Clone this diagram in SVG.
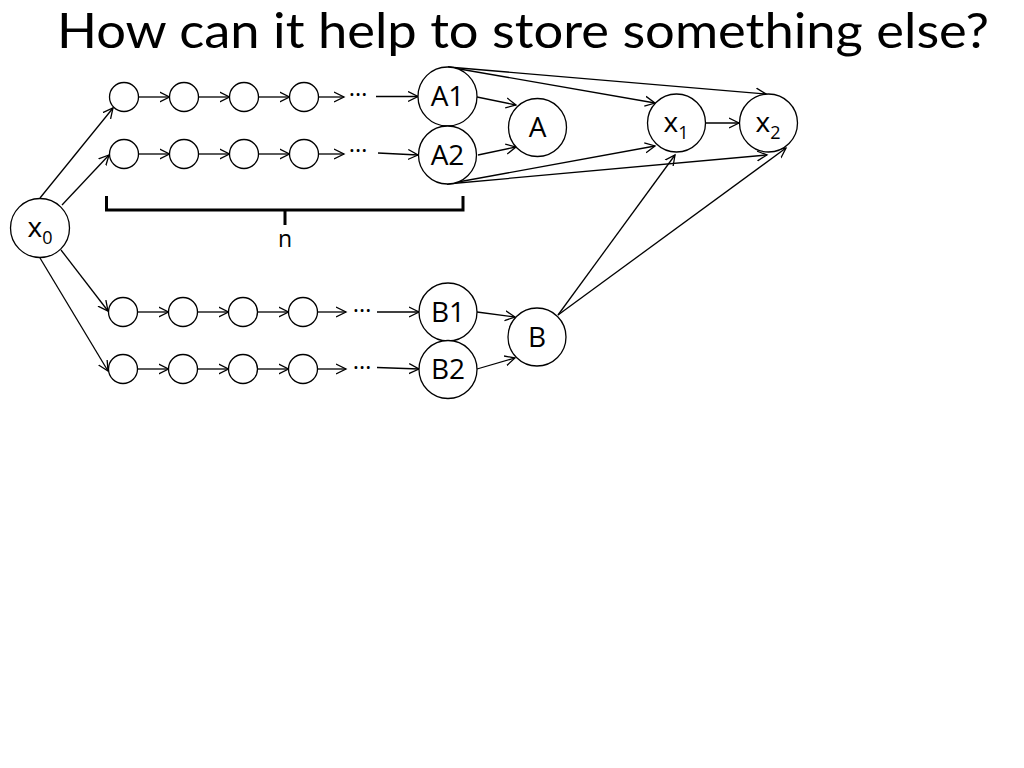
<svg xmlns="http://www.w3.org/2000/svg" width="1024" height="768" viewBox="0 0 1024 768">
<defs>
<style>
.n{fill:#fff;stroke:#000;stroke-width:1.3}
.e{fill:none;stroke:#000;stroke-width:1.3;marker-end:url(#ah)}
.t{font-family:"Open Sans","Liberation Sans",sans-serif;fill:#000;text-anchor:middle}
.lbl{font-size:28px}
.sub{font-size:18px}
.dots{font-family:"Open Sans","Liberation Sans",sans-serif;font-size:24px;fill:#000;text-anchor:middle}
</style>
<marker id="ah" markerUnits="userSpaceOnUse" markerWidth="12" markerHeight="12" refX="10" refY="5" orient="auto" viewBox="0 0 12 10">
<path d="M0,0 L10,5 L0,10" fill="none" stroke="#000" stroke-width="1.3"/>
</marker>
</defs>
<rect width="1024" height="768" fill="#fff"/>
<text x="57" y="48" font-family="Lato, Open Sans, sans-serif" font-size="48" textLength="932" lengthAdjust="spacingAndGlyphs">How can it help to store something else?</text>

<g id="connectors">
<path class="e" d="M40,198 L113,108"/>
<path class="e" d="M62,205 L109,155"/>
<path class="e" d="M61,250 L108,311"/>
<path class="e" d="M40,258 L108,371"/>
<path class="e" d="M138.5,97 L169.5,97"/>
<path class="e" d="M198.5,97 L229.5,97"/>
<path class="e" d="M258.5,97 L289.5,97"/>
<path class="e" d="M318.5,97 L344,97"/>
<path class="e" d="M376,96.5 L418,96.5"/>
<path class="e" d="M138.5,154 L169.5,154"/>
<path class="e" d="M198.5,154 L229.5,154"/>
<path class="e" d="M258.5,154 L289.5,154"/>
<path class="e" d="M318.5,154 L344,154"/>
<path class="e" d="M378,153 L418,155"/>
<path class="e" d="M137.5,312 L168.5,312"/>
<path class="e" d="M197.5,312 L228.5,312"/>
<path class="e" d="M257.5,312 L288.5,312"/>
<path class="e" d="M317.5,312 L346,312"/>
<path class="e" d="M377,312 L419,312"/>
<path class="e" d="M137.5,369 L168.5,369"/>
<path class="e" d="M197.5,369 L228.5,369"/>
<path class="e" d="M257.5,369 L288.5,369"/>
<path class="e" d="M317.5,369 L346,369"/>
<path class="e" d="M377,367.5 L419,369"/>
<path class="e" d="M477,97 L516,105"/>
<path class="e" d="M478,155 L516,147"/>
<path class="e" d="M448,67 L655,103"/>
<path class="e" d="M448,67 L766,94"/>
<path class="e" d="M447,184 L655,146"/>
<path class="e" d="M447,184 L767,155"/>
<path class="e" d="M477,312 L515,317"/>
<path class="e" d="M477,369 L515,358"/>
<path class="e" d="M558,315 L675,155"/>
<path class="e" d="M558,315 L786,148"/>
<path class="e" d="M706,123 L739,123"/>
</g>

<g id="ellipses">
<text class="dots" x="358" y="96">…</text>
<text class="dots" x="358" y="152">…</text>
<text class="dots" x="362" y="312">…</text>
<text class="dots" x="362" y="369">…</text>
</g>

<g id="brace">
<path d="M106.5,196 L106.5,210 L463,210 L463,196 M285,210 L285,225" fill="none" stroke="#000" stroke-width="3"/>
<text class="t" x="285" y="247" font-size="23">n</text>
</g>

<g id="chain-row1">
<circle class="n" cx="124" cy="97" r="14.5"/>
<circle class="n" cx="184" cy="97" r="14.5"/>
<circle class="n" cx="244" cy="97" r="14.5"/>
<circle class="n" cx="304" cy="97" r="14.5"/>
</g>
<g id="chain-row2">
<circle class="n" cx="124" cy="154" r="14.5"/>
<circle class="n" cx="184" cy="154" r="14.5"/>
<circle class="n" cx="244" cy="154" r="14.5"/>
<circle class="n" cx="304" cy="154" r="14.5"/>
</g>
<g id="chain-row3">
<circle class="n" cx="123" cy="312" r="14.5"/>
<circle class="n" cx="183" cy="312" r="14.5"/>
<circle class="n" cx="243" cy="312" r="14.5"/>
<circle class="n" cx="303" cy="312" r="14.5"/>
</g>
<g id="chain-row4">
<circle class="n" cx="123" cy="369" r="14.5"/>
<circle class="n" cx="183" cy="369" r="14.5"/>
<circle class="n" cx="243" cy="369" r="14.5"/>
<circle class="n" cx="303" cy="369" r="14.5"/>
</g>

<g id="x0">
<circle class="n" cx="40" cy="228" r="29.5"/>
<text class="t lbl" x="40" y="237">x<tspan class="sub" dy="7">0</tspan></text>
</g>
<g id="A1">
<circle class="n" cx="447.5" cy="96.5" r="29.5"/>
<text class="t lbl" x="447.5" y="106">A1</text>
</g>
<g id="A2">
<circle class="n" cx="447.5" cy="155" r="29"/>
<text class="t lbl" x="447.5" y="164.5">A2</text>
</g>
<g id="A">
<circle class="n" cx="537.5" cy="127.5" r="29"/>
<text class="t lbl" x="537.5" y="137">A</text>
</g>
<g id="x1">
<circle class="n" cx="676.5" cy="123" r="29"/>
<text class="t lbl" x="676" y="132">x<tspan class="sub" dy="7">1</tspan></text>
</g>
<g id="x2">
<circle class="n" cx="768.5" cy="123" r="29"/>
<text class="t lbl" x="768" y="132">x<tspan class="sub" dy="7">2</tspan></text>
</g>
<g id="B1">
<circle class="n" cx="448" cy="312" r="29"/>
<text class="t lbl" x="448" y="321.5">B1</text>
</g>
<g id="B2">
<circle class="n" cx="448" cy="369.5" r="29"/>
<text class="t lbl" x="448" y="379">B2</text>
</g>
<g id="B">
<circle class="n" cx="537" cy="337" r="29"/>
<text class="t lbl" x="537" y="346.5">B</text>
</g>
</svg>
